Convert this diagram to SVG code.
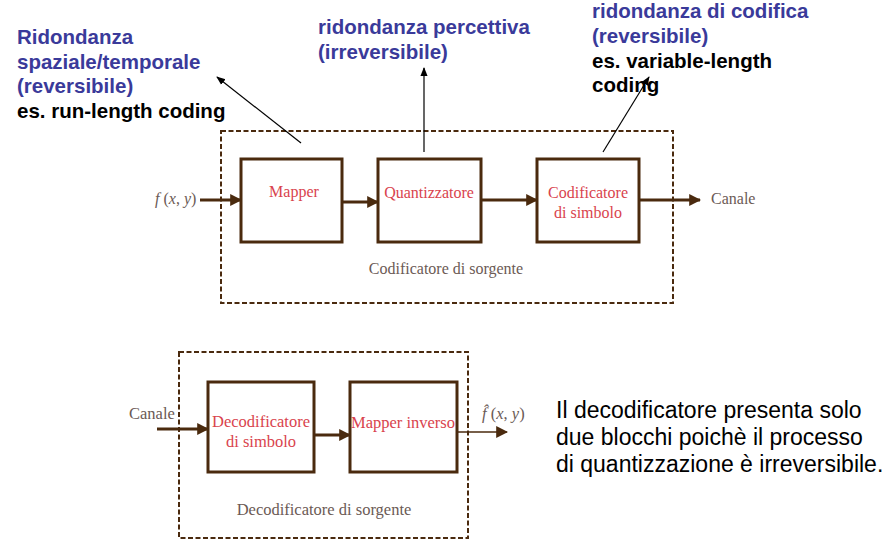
<svg xmlns="http://www.w3.org/2000/svg" width="895" height="551" viewBox="0 0 895 551">
<defs>
<marker id="ah" viewBox="0 0 10 10" refX="9" refY="5" markerWidth="9" markerHeight="9" markerUnits="userSpaceOnUse" orient="auto"><path d="M0,1 L10,5 L0,9 z" fill="#000"/></marker>
<marker id="bh" viewBox="0 0 10 10" refX="9" refY="5" markerWidth="12" markerHeight="12" markerUnits="userSpaceOnUse" orient="auto"><path d="M0,0 L10,5 L0,10 z" fill="#4a2a0e"/></marker>
</defs>
<style>
.box{fill:#fff;stroke:#4a2a0e;stroke-width:3}
.dash{fill:none;stroke:#4a2a0e;stroke-width:2;stroke-dasharray:5,2.5}
.con{stroke:#4a2a0e;stroke-width:3;fill:none}
.thin{stroke:#4a2a0e;stroke-width:1.5;fill:none}
.ann{stroke:#000;stroke-width:1.2;fill:none}
.lab{font-family:"Liberation Serif",serif;font-size:16px;fill:#d9434d;text-anchor:middle}
.lab2{font-family:"Liberation Serif",serif;font-size:16.5px;fill:#d9434d;text-anchor:middle}
.gray{font-family:"Liberation Serif",serif;font-size:16px;fill:#6b5a55}
.gray2{font-family:"Liberation Serif",serif;font-size:16.5px;fill:#6b5a55}
.blue{font-family:"Liberation Sans",Arial,sans-serif;font-size:20.5px;font-weight:bold;fill:#3a3a9a}
.blk{font-family:"Liberation Sans",Arial,sans-serif;font-size:20.5px;font-weight:bold;fill:#000}
.note{font-family:"Liberation Sans",Arial,sans-serif;font-size:23px;fill:#000}
</style>
<rect width="895" height="551" fill="#fff"/>
<g id="encoder-group"><rect class="dash" x="221" y="131" width="452" height="172"/><text class="gray" x="446" y="274" text-anchor="middle">Codificatore di sorgente</text></g>
<g id="decoder-group"><rect class="dash" x="179" y="352" width="289" height="186"/><text class="gray2" x="324" y="515" text-anchor="middle">Decodificatore di sorgente</text></g>
<g id="connectors">
<line class="con" x1="200" y1="200" x2="241" y2="200" marker-end="url(#bh)"/>
<line class="con" x1="342" y1="202" x2="378" y2="202" marker-end="url(#bh)"/>
<line class="con" x1="481" y1="200" x2="537" y2="200" marker-end="url(#bh)"/>
<line class="con" x1="639" y1="200" x2="700" y2="200" marker-end="url(#bh)"/>
<line class="con" x1="157" y1="429" x2="208" y2="429" marker-end="url(#bh)"/>
<line class="con" x1="314" y1="435" x2="350" y2="435" marker-end="url(#bh)"/>
<line class="thin" x1="457" y1="432" x2="507" y2="432" marker-end="url(#bh)"/>
<line class="ann" x1="301" y1="143" x2="217" y2="77" marker-end="url(#ah)"/>
<line class="ann" x1="424" y1="152" x2="424" y2="68" marker-end="url(#ah)"/>
<line class="ann" x1="603" y1="152" x2="649" y2="77" marker-end="url(#ah)"/>
</g>
<g id="mapper"><rect class="box" x="241" y="159" width="101" height="83"/><text class="lab" x="294" y="197">Mapper</text></g>
<g id="quantizzatore"><rect class="box" x="378" y="159" width="103" height="83"/><text class="lab" x="429" y="198">Quantizzatore</text></g>
<g id="codificatore"><rect class="box" x="537" y="159" width="102" height="83"/><text class="lab" x="588" y="198">Codificatore</text><text class="lab" x="588" y="218">di simbolo</text></g>
<g id="decodificatore"><rect class="box" x="208" y="382" width="106" height="90"/><text class="lab2" x="261" y="427">Decodificatore</text><text class="lab2" x="261" y="447">di simbolo</text></g>
<g id="mapper-inverso"><rect class="box" x="350" y="382" width="107" height="90"/><text class="lab2" x="403" y="428">Mapper inverso</text></g>
<g id="io-labels">
<text class="gray" x="155" y="204"><tspan font-style="italic">f</tspan> (<tspan font-style="italic">x</tspan>, <tspan font-style="italic">y</tspan>)</text>
<text class="gray" x="711" y="204">Canale</text>
<text class="gray2" x="129" y="419">Canale</text>
<text class="gray2" x="482" y="419"><tspan font-style="italic">f̂</tspan> (<tspan font-style="italic">x</tspan>, <tspan font-style="italic">y</tspan>)</text>
</g>
<g id="annotations">
<text class="blue" x="17" y="44">Ridondanza</text>
<text class="blue" x="17" y="69">spaziale/temporale</text>
<text class="blue" x="17" y="93">(reversibile)</text>
<text class="blk" x="17" y="118">es. run-length coding</text>
<text class="blue" x="318" y="34">ridondanza percettiva</text>
<text class="blue" x="318" y="59">(irreversibile)</text>
<text class="blue" x="592" y="18">ridondanza di codifica</text>
<text class="blue" x="592" y="43">(reversibile)</text>
<text class="blk" x="592" y="68">es. variable-length</text>
<text class="blk" x="592" y="92">coding</text>
<text class="note" x="556" y="418">Il decodificatore presenta solo</text>
<text class="note" x="556" y="445">due blocchi poichè il processo</text>
<text class="note" x="556" y="472">di quantizzazione è irreversibile.</text>
</g>
</svg>
